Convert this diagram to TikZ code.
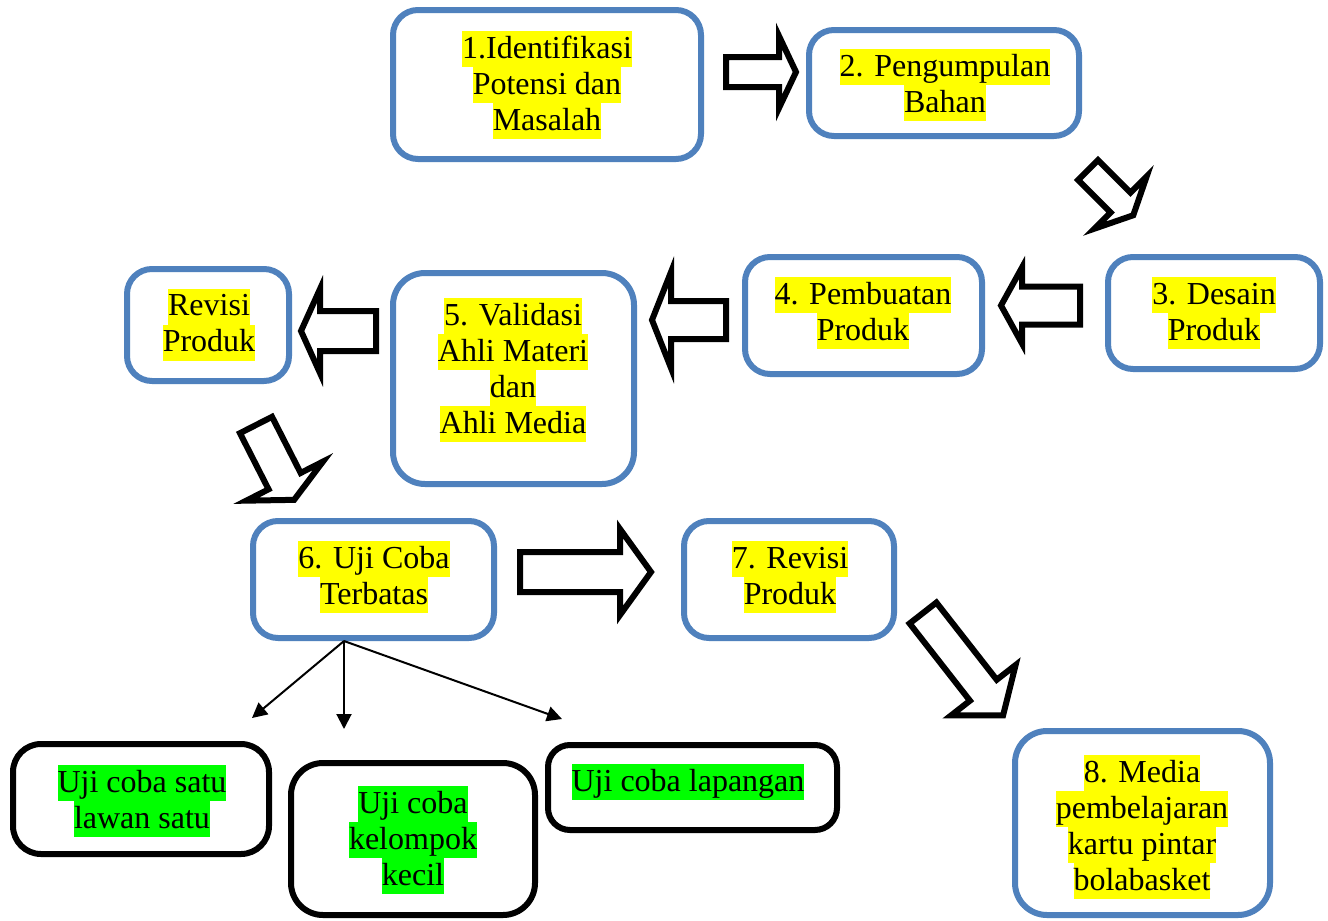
\documentclass[tikz,border=0pt]{standalone}
\usepackage{fontspec}
\setmainfont{Liberation Serif}
\usetikzlibrary{arrows.meta}
\definecolor{boxblue}{HTML}{4F81BD}
\definecolor{hlyellow}{HTML}{FFFF00}
\definecolor{hlgreen}{HTML}{00FF00}
\newcommand{\hly}[1]{{\setlength{\fboxsep}{0pt}\colorbox{hlyellow}{\rule[-9pt]{0pt}{36pt}#1}}}
\newcommand{\hlg}[1]{{\setlength{\fboxsep}{0pt}\colorbox{hlgreen}{\rule[-9pt]{0pt}{36pt}#1}}}
% tail-center x, y, angle, total length, shaft half-width, head half-width, head length
\newcommand{\blockarrow}[7]{%
  \begin{scope}[shift={(#1,#2)},rotate=#3]
    \draw[barrow] (0,-#5) -- ({#4-#7},-#5) -- ({#4-#7},-#6) -- (#4,0) -- ({#4-#7},#6) -- ({#4-#7},#5) -- (0,#5) -- cycle;
  \end{scope}}
\tikzset{
  bbox/.style={draw=boxblue, line width=6pt, rounded corners=25pt, inner sep=0pt, fill=white},
  kbox/.style={draw=black, line width=6pt, rounded corners=28pt, inner sep=0pt, fill=white},
  txt/.style={inner sep=0pt, align=center, font=\fontsize{32}{36}\selectfont},
  barrow/.style={draw=black, line width=6pt, fill=white, line join=miter},
  thinarrow/.style={draw=black, line width=2pt, -{Triangle[length=15pt,width=15pt]}}
}
\begin{document}
\begin{tikzpicture}[x=1pt,y=-1pt]
\useasboundingbox (0,0) rectangle (1328,921);
\fill[white] (0,0) rectangle (1328,921);

% blue boxes
\node[bbox, minimum width=308pt, minimum height=149pt] (b1) at (547,84.5) {};
\node[bbox, minimum width=270pt, minimum height=106pt] (b2) at (944,83) {};
\node[bbox, minimum width=212pt, minimum height=112pt] (b3) at (1214,313) {};
\node[bbox, minimum width=237pt, minimum height=117pt] (b4) at (863.5,315.5) {};
\node[bbox, minimum width=241pt, minimum height=211pt, rounded corners=32pt] (b5) at (513.5,378.5) {};
\node[bbox, minimum width=162pt, minimum height=112pt] (br) at (208,325) {};
\node[bbox, minimum width=241pt, minimum height=117pt] (b6) at (373.5,579.5) {};
\node[bbox, minimum width=210pt, minimum height=117pt] (b7) at (789,579.5) {};
\node[bbox, minimum width=255pt, minimum height=184pt, rounded corners=32pt] (b8) at (1142.5,823) {};

% black boxes
\node[kbox, minimum width=256pt, minimum height=110pt] (k1) at (141,799) {};
\node[kbox, minimum width=244pt, minimum height=152pt, rounded corners=32pt] (k2) at (413,839) {};
\node[kbox, minimum width=289pt, minimum height=85pt, rounded corners=22pt] (k3) at (692.5,787.5) {};

% texts
\node[txt] (t1) at (547,85) {\hly{1.Identifikasi}\\\hly{Potensi dan}\\\hly{Masalah}};
\node[txt] (t2) at (945,85) {\hly{2. Pengumpulan}\\\hly{Bahan}};
\node[txt] (t3) at (1214,313) {\hly{3. Desain}\\\hly{Produk}};
\node[txt] (t4) at (863,313) {\hly{4. Pembuatan}\\\hly{Produk}};
\node[txt] (t5) at (513,370) {\hly{5. Validasi}\\\hly{Ahli Materi}\\\hly{dan}\\\hly{Ahli Media}};
\node[txt] (tr) at (209,324.5) {\hly{Revisi}\\\hly{Produk}};
\node[txt] (t6) at (374,577) {\hly{6. Uji Coba}\\\hly{Terbatas}};
\node[txt] (t7) at (790,577) {\hly{7. Revisi}\\\hly{Produk}};
\node[txt] (t8) at (1142,827) {\hly{8. Media}\\\hly{pembelajaran}\\\hly{kartu pintar}\\\hly{bolabasket}};
\node[txt] (u1) at (142,801) {\hlg{Uji coba satu}\\\hlg{lawan satu}};
\node[txt] (u2) at (413,840) {\hlg{Uji coba}\\\hlg{kelompok}\\\hlg{kecil}};
\node[txt] (u3) at (688,782) {\hlg{Uji coba lapangan}};

% block arrows
\blockarrow{726}{72}{0}{70}{15}{36}{17}
\blockarrow{1088}{170}{-45}{64}{14}{37}{18}
\blockarrow{1080}{305.5}{180}{79}{19}{38}{21}
\blockarrow{726}{320}{180}{74}{19}{48}{19}
\blockarrow{376}{331}{180}{75}{20}{42}{19}
\blockarrow{256}{425}{-63}{84}{18}{43}{21}
\blockarrow{520}{572}{0}{131}{20}{43}{31}
\blockarrow{923}{613}{-52}{130}{17}{41}{32}

% thin arrows from box 6
\coordinate (s6) at (344,641);
\coordinate (e1) at (252,718);
\coordinate (e2) at (344,729);
\coordinate (e3) at (562,719);
\draw[thinarrow] (s6) -- (e1);
\draw[thinarrow] (s6) -- (e2);
\draw[thinarrow] (s6) -- (e3);
\end{tikzpicture}
\end{document}
